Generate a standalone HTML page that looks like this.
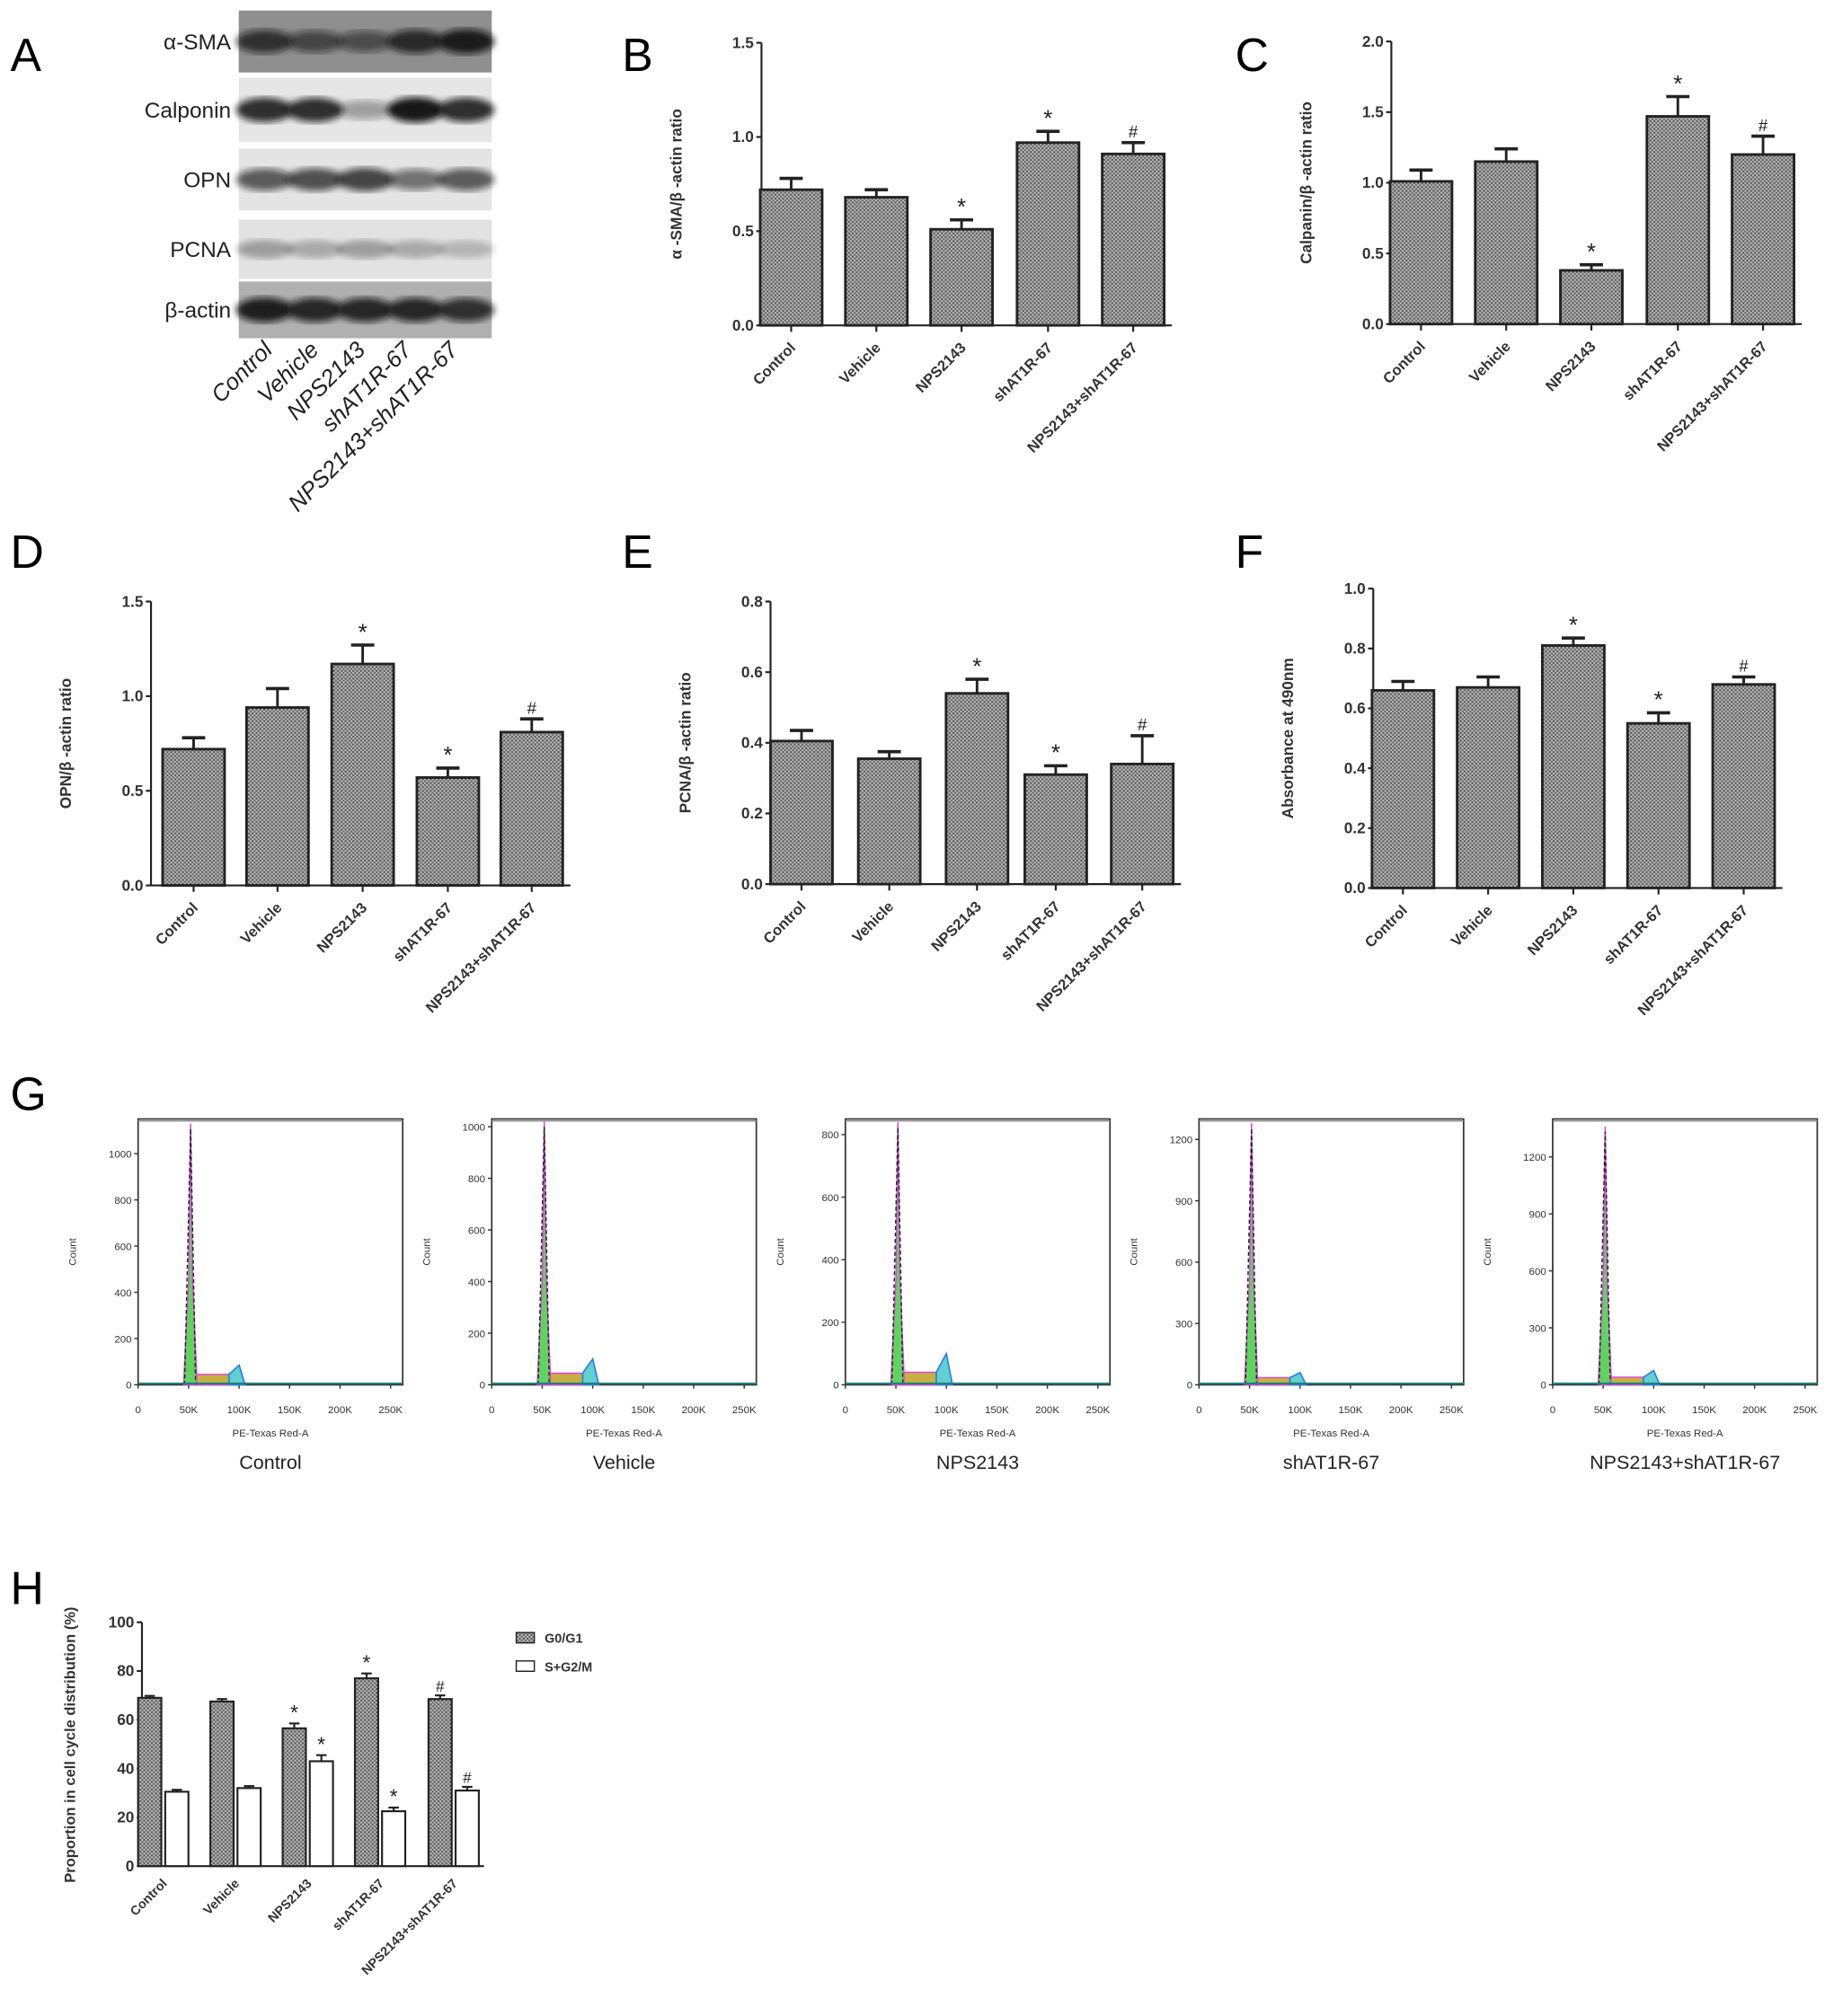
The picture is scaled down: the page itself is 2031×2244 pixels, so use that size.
<!DOCTYPE html>
<html><head><meta charset="utf-8">
<style>html,body{margin:0;padding:0;background:#fff}svg{display:block}</style></head>
<body>
<svg id="fig" xmlns="http://www.w3.org/2000/svg" width="2031" height="2244" viewBox="0 0 1414 1562" font-family="Liberation Sans, Arial, sans-serif">
<defs>
<pattern id="hatch" width="3" height="3" patternUnits="userSpaceOnUse">
<rect width="3" height="3" fill="#bcbcbc"/><rect width="1.5" height="1.5" fill="#555"/><rect x="1.5" y="1.5" width="1.5" height="1.5" fill="#666"/>
</pattern>
<filter id="blur"><feGaussianBlur stdDeviation="2.5"/></filter>
</defs>
<g id="root"></g>
</svg>
<script>
const groups = ["Control","Vehicle","NPS2143","shAT1R-67","NPS2143+shAT1R-67"];
const bVals = [0.72,0.68,0.51,0.97,0.91];
const bErr = [0.06,0.04,0.05,0.06,0.06];
const bMarks = ["","","*","*","#"];
const cVals = [1.01,1.15,0.38,1.47,1.20];
const cErr = [0.08,0.09,0.04,0.14,0.13];
const cMarks = ["","","*","*","#"];
const dVals = [0.72,0.94,1.17,0.57,0.81];
const dErr = [0.06,0.10,0.10,0.05,0.07];
const dMarks = ["","","*","*","#"];
const eVals = [0.405,0.355,0.54,0.31,0.34];
const eErr = [0.03,0.02,0.04,0.025,0.08];
const eMarks = ["","","*","*","#"];
const fVals = [0.66,0.67,0.81,0.55,0.68];
const fErr = [0.03,0.035,0.025,0.035,0.025];
const fMarks = ["","","*","*","#"];
const hG1 = [69,67.5,56.5,77,68.5];
const hG1Err = [0.8,1,2,2,1.5];
const hG1Marks = ["","","*","*","#"];
const hS = [30.5,32,43,22.5,31];
const hSErr = [0.8,0.8,2.5,1.5,1.5];
const hSMarks = ["","","*","*","#"];
const blotLabels = ["α-SMA","Calponin","OPN","PCNA","β-actin"];
const blotIntensity = [[0.75,0.6,0.55,0.8,0.9],[0.85,0.85,0.35,0.95,0.85],[0.65,0.7,0.75,0.55,0.65],[0.3,0.25,0.3,0.25,0.2],[0.9,0.85,0.85,0.85,0.8]];
const flowMax = [1150,1030,850,1300,1400];
const flowTickStep = [200,200,200,300,300];
const flowTickMax = [1000,1000,800,1200,1200];
const flowG1 = [1130,1020,840,1280,1360];
const flowS = [45,45,40,35,40];
const flowG2 = [85,100,100,60,75];
const flowXTicks = ["0","50K","100K","150K","200K","250K"];

const NS="http://www.w3.org/2000/svg";
const root=document.getElementById('root');
function el(tag,attrs,parent,text){const e=document.createElementNS(NS,tag);for(const k in attrs)e.setAttribute(k,attrs[k]);if(text!==undefined)e.textContent=text;(parent||root).appendChild(e);return e;}

function letter(t,x,y){const e=el('text',{x:x,y:y,'font-size':36},root,t);

}

function barChart(name,cfg){
  const g=el('g',{});
  
  
  const {ax,y0,yTop,max,step,dec,centers,vals,errs,marks,label,bw}=cfg;
  const ys=v=>y0-(v/max)*(y0-yTop);
  el('line',{x1:ax,y1:yTop,x2:ax,y2:y0,stroke:'#222','stroke-width':1.5},g);
  const xEnd=centers[centers.length-1]+bw/2+6;
  el('line',{x1:ax,y1:y0,x2:xEnd,y2:y0,stroke:'#222','stroke-width':1.5},g);
  for(let v=0;v<=max+1e-9;v+=step){
    const y=ys(v);
    el('line',{x1:ax-4,y1:y,x2:ax,y2:y,stroke:'#222','stroke-width':1.5},g);
    const t=el('text',{x:ax-6,y:y+4,'font-size':12,'font-weight':'bold','text-anchor':'end',fill:'#333'},g,v.toFixed(dec));
    
    
  }
  const yl=el('text',{x:0,y:0,'font-size':12,'font-weight':'bold','text-anchor':'middle',fill:'#333',transform:`translate(${ax-62},${(y0+yTop)/2}) rotate(-90)`},g,label);
  
  
  centers.forEach((c,i)=>{
    const top=ys(vals[i]);
    const r=el('rect',{x:c-bw/2,y:top,width:bw,height:y0-top,fill:'url(#hatch)',stroke:'#222','stroke-width':2},g);
    
    
    const et=ys(vals[i]+errs[i]);
    el('line',{x1:c,y1:top,x2:c,y2:et,stroke:'#222','stroke-width':2},g);
    el('line',{x1:c-9,y1:et,x2:c+9,y2:et,stroke:'#222','stroke-width':2.5},g);
    if(marks[i]){const m=el('text',{x:c,y:et-4,'font-size':marks[i]=='*'?18:13,'text-anchor':'middle',fill:'#222'},g,marks[i]);
      
      }
    el('line',{x1:c,y1:y0,x2:c,y2:y0+5,stroke:'#222','stroke-width':1.5},g);
    const xl=el('text',{x:0,y:0,'font-size':11.5,'font-weight':'bold','text-anchor':'end',fill:'#333',transform:`translate(${c+4},${y0+18}) rotate(-45)`},g,groups[i]);
    
    
  });
}

// Panel A blot
letter('A',8,55);
const blotG=el('g',{});


const strips=[[8,48],[60,50],[115,48],[170,46],[218,44]];
const stripBg=['#8f8f8f','#e6e6e6','#e4e4e4','#e2e2e2','#b0b0b0'];
strips.forEach((s,r)=>{
  el('rect',{x:185,y:s[0],width:196,height:s[1],fill:stripBg[r]},blotG);
  blotIntensity[r].forEach((v,i)=>{
    const b=el('ellipse',{cx:185+20+i*39,cy:s[0]+s[1]/2,rx:22,ry:6+v*4,fill:'#111','fill-opacity':v,filter:'url(#blur)'},blotG);
    
    
  });
  const t=el('text',{x:179,y:s[0]+s[1]/2+6,'font-size':17,'text-anchor':'end',fill:'#222'},blotG,blotLabels[r]);
  
  
});
groups.forEach((gname,i)=>{
  const t=el('text',{x:0,y:0,'font-size':18,'font-style':'italic','text-anchor':'end',fill:'#222',transform:`translate(${212+i*36},${272}) rotate(-45)`},blotG,gname);
  
  
});

letter('B',482,55);
barChart('chart-b',{ax:590,y0:252,yTop:33,max:1.5,step:0.5,dec:1,centers:[613,679,745,812,878],vals:bVals,errs:bErr,marks:bMarks,label:'α -SMA/β -actin ratio',bw:48});
letter('C',957,55);
barChart('chart-c',{ax:1078,y0:251,yTop:32,max:2.0,step:0.5,dec:1,centers:[1101,1167,1233,1300,1366],vals:cVals,errs:cErr,marks:cMarks,label:'Calpanin/β -actin ratio',bw:48});
letter('D',8,440);
barChart('chart-d',{ax:117,y0:686,yTop:466,max:1.5,step:0.5,dec:1,centers:[150,215,281,347,412],vals:dVals,errs:dErr,marks:dMarks,label:'OPN/β -actin ratio',bw:48});
letter('E',482,440);
barChart('chart-e',{ax:597,y0:685,yTop:466,max:0.8,step:0.2,dec:1,centers:[621,689,757,818,885],vals:eVals,errs:eErr,marks:eMarks,label:'PCNA/β -actin ratio',bw:48});
letter('F',957,440);
barChart('chart-f',{ax:1064,y0:688,yTop:456,max:1.0,step:0.2,dec:1,centers:[1087,1153,1219,1285,1351],vals:fVals,errs:fErr,marks:fMarks,label:'Absorbance at 490nm',bw:48});

// Panel G flow
letter('G',8,860);
const flowX=[107,381,655,929,1203];
groups.forEach((gname,p)=>{
  const g=el('g',{});
  
  
  const x0=flowX[p],x1=x0+205,yT=867,yB=1073;
  const ys=v=>yB-v/flowMax[p]*(yB-yT);
  const xs=k=>x0+k/262*(x1-x0);
  el('rect',{x:x0,y:yT,width:x1-x0,height:yB-yT,fill:'none',stroke:'#333','stroke-width':1.2},g);
  el('line',{x1:x0,y1:yT+1.5,x2:x1,y2:yT+1.5,stroke:'#888','stroke-width':1},g);
  for(let v=0;v<=flowTickMax[p];v+=flowTickStep[p]){
    el('line',{x1:x0-3,y1:ys(v),x2:x0,y2:ys(v),stroke:'#333'},g);
    el('text',{x:x0-5,y:ys(v)+3,'font-size':8,'text-anchor':'end',fill:'#333'},g,String(v));
  }
  flowXTicks.forEach((t,i)=>{const x=xs(i*50);el('line',{x1:x,y1:yB,x2:x,y2:yB+3,stroke:'#333'},g);
    el('text',{x:x,y:yB+22,'font-size':8,'text-anchor':'middle',fill:'#333'},g,t);});
  el('text',{x:0,y:0,'font-size':8,'text-anchor':'middle',fill:'#333',transform:`translate(${x0-48},${(yT+yB)/2}) rotate(-90)`},g,'Count');
  el('text',{x:(x0+x1)/2,y:1113,'font-size':8,'text-anchor':'middle',fill:'#333'},g,'PE-Texas Red-A');
  const tt=el('text',{x:(x0+x1)/2,y:1138,'font-size':15,'text-anchor':'middle',fill:'#222'},g,gname);
  
  
  const g1=`M${xs(45)},${yB} L${xs(50)},${ys(flowG1[p]*0.4)} L${xs(52)},${ys(flowG1[p])} L${xs(54)},${ys(flowG1[p]*0.4)} L${xs(58)},${ys(flowS[p])} L${xs(58)},${yB} Z`;
  el('path',{d:g1,fill:'#5fd35f',stroke:'#e040e0','stroke-width':1},g);
  el('path',{d:`M${xs(46)},${yB} L${xs(52)},${ys(flowG1[p]*0.98)} L${xs(57)},${yB}`,fill:'none',stroke:'#222','stroke-width':1,'stroke-dasharray':'3,2'},g);
  const sPath=`M${xs(58)},${yB} L${xs(58)},${ys(flowS[p])} L${xs(90)},${ys(flowS[p])} L${xs(90)},${yB} Z`;
  el('path',{d:sPath,fill:'#c8b040',stroke:'#e040e0','stroke-width':1},g);
  const g2=`M${xs(90)},${yB} L${xs(90)},${ys(flowS[p])} L${xs(100)},${ys(flowG2[p])} L${xs(106)},${yB} Z`;
  el('path',{d:g2,fill:'#60d0d0',stroke:'#3080e0','stroke-width':1.2},g);
  el('line',{x1:x0,y1:yB-1,x2:x1,y2:yB-1,stroke:'#208080','stroke-width':1.5},g);
});

// Panel H
letter('H',8,1243);
(function(){
  const g=el('g',{});
  
  
  const ax=110,y0=1446,yT=1257,max=100;
  const ys=v=>y0-v/max*(y0-yT);
  el('line',{x1:ax,y1:yT,x2:ax,y2:y0,stroke:'#222','stroke-width':1.5},g);
  el('line',{x1:ax,y1:y0,x2:375,y2:y0,stroke:'#222','stroke-width':1.5},g);
  for(let v=0;v<=100;v+=20){el('line',{x1:ax-4,y1:ys(v),x2:ax,y2:ys(v),stroke:'#222','stroke-width':1.5},g);
    el('text',{x:ax-6,y:ys(v)+4,'font-size':12,'font-weight':'bold','text-anchor':'end',fill:'#333'},g,String(v));}
  el('text',{x:0,y:0,'font-size':11.5,'font-weight':'bold','text-anchor':'middle',fill:'#333',transform:`translate(58,1352) rotate(-90)`},g,'Proportion in cell cycle distribution (%)');
  const cs=[126,182,238,294,351],bw=18;
  cs.forEach((c,i)=>{
    [[hG1,hG1Err,hG1Marks,'url(#hatch)',-10],[hS,hSErr,hSMarks,'#fff',11]].forEach(([vals,errs,marks,fill,off],k)=>{
      const x=c+off,top=ys(vals[i]);
      const r=el('rect',{x:x-bw/2,y:top,width:bw,height:y0-top,fill:fill,stroke:'#222','stroke-width':1.5},g);
      
      
      const et=ys(vals[i]+errs[i]);
      el('line',{x1:x,y1:top,x2:x,y2:et,stroke:'#222','stroke-width':1.5},g);
      el('line',{x1:x-4,y1:et,x2:x+4,y2:et,stroke:'#222','stroke-width':1.5},g);
      if(marks[i])el('text',{x:x,y:et-3,'font-size':marks[i]=='*'?16:12,'text-anchor':'middle',fill:'#222'},g,marks[i]);
    });
    const xl=el('text',{x:0,y:0,'font-size':10,'font-weight':'bold','text-anchor':'end',fill:'#333',transform:`translate(${c+4},${y0+14}) rotate(-45)`},g,groups[i]);
    
    
  });
  const lg=el('g',{},g);
  
  
  el('rect',{x:400,y:1265,width:14,height:8,fill:'url(#hatch)',stroke:'#222'},lg);
  el('text',{x:422,y:1273,'font-size':10,'font-weight':'bold',fill:'#333'},lg,'G0/G1');
  el('rect',{x:400,y:1287,width:14,height:8,fill:'#fff',stroke:'#222'},lg);
  el('text',{x:422,y:1295,'font-size':10,'font-weight':'bold',fill:'#333'},lg,'S+G2/M');
})();
</script>
</body></html>
